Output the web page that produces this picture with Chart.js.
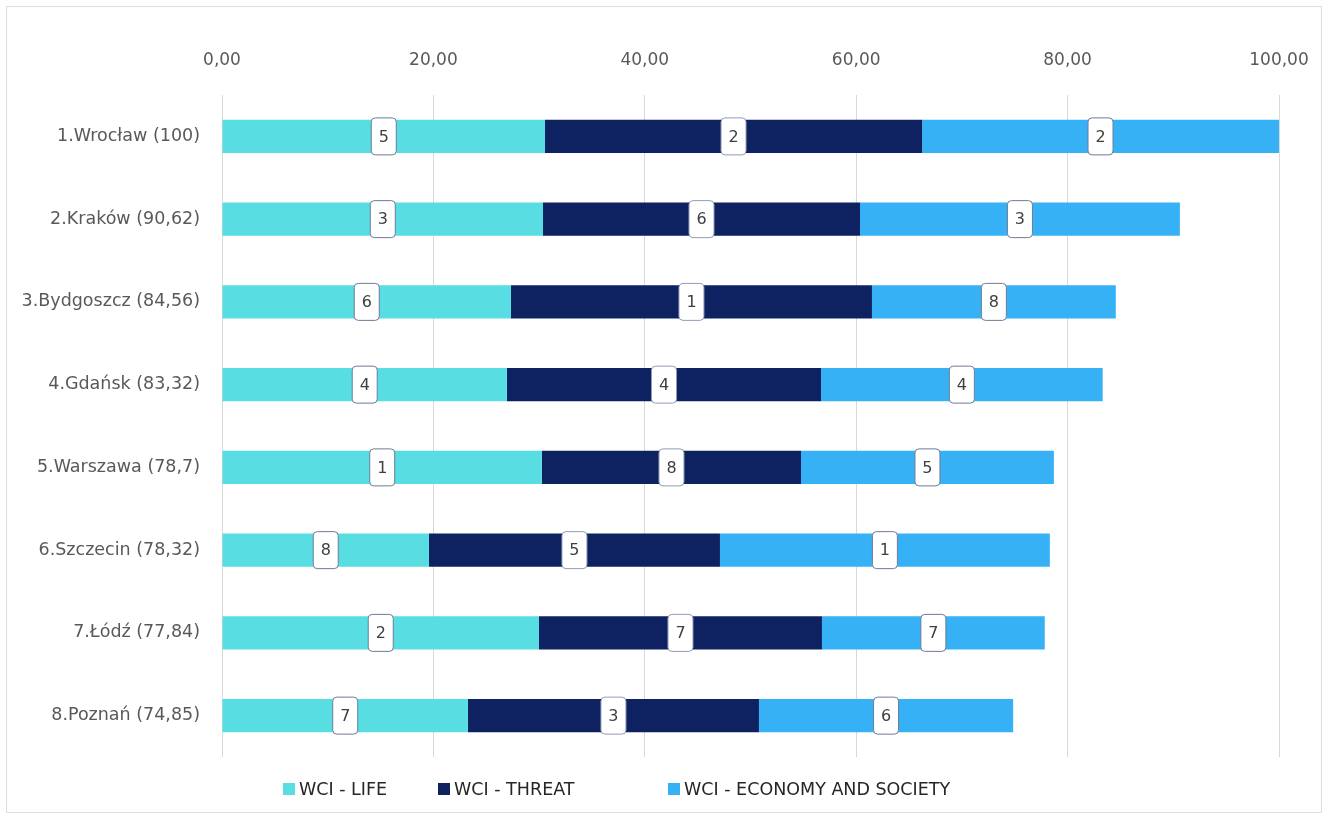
<!DOCTYPE html>
<html>
<head>
<meta charset="utf-8">
<script src="https://cdn.jsdelivr.net/npm/chart.js@4"></script>
<style>
  body { margin: 0; background: #fff; }
  #wrap { position: relative; width: 1329px; height: 820px; }
  #frame { position: absolute; left: 6px; top: 6px; width: 1316px; height: 807px; border: 1px solid #dedede; box-sizing: border-box; }
  #chart { position: absolute; left: 0; top: 0; }
  #legend { position: absolute; top: 779px; left: 0; font-family: "DejaVu Sans", sans-serif; font-size: 17.5px; color: #262626; }
  .item { position: absolute; white-space: nowrap; display: flex; align-items: center; }
  .box { width: 12px; height: 12px; margin-right: 4px; }
</style>
</head>
<body>
<div id="wrap">
  <div id="frame"></div>
  <canvas id="chart" width="1329" height="820"></canvas>
  <div id="legend"></div>
</div>
<script>
// categories and series
const cities = ['1.Wrocław (100)', '2.Kraków (90,62)', '3.Bydgoszcz (84,56)', '4.Gdańsk (83,32)',
                '5.Warszawa (78,7)', '6.Szczecin (78,32)', '7.Łódź (77,84)', '8.Poznań (74,85)'];
const lifeValues = [30.56, 30.37, 27.34, 26.96, 30.27, 19.58, 29.99, 23.27];
const threatValues = [35.67, 29.99, 34.15, 29.71, 24.51, 27.53, 26.77, 27.53];
const economyValues = [33.77, 30.26, 23.07, 26.65, 23.92, 31.21, 21.08, 24.05];
// rank shown inside each segment
const lifeRanks = [5, 3, 6, 4, 1, 8, 2, 7];
const threatRanks = [2, 6, 1, 4, 8, 5, 7, 3];
const economyRanks = [2, 3, 8, 4, 5, 1, 7, 6];
const tickLabels = ['0,00', '20,00', '40,00', '60,00', '80,00', '100,00'];
const seriesNames = ['WCI - LIFE', 'WCI - THREAT', 'WCI - ECONOMY AND SOCIETY'];
const seriesColors = ['#58dee2', '#0e2262', '#36b1f5'];

const ranks = [lifeRanks, threatRanks, economyRanks];

// draws the small rounded rank boxes at the middle of each segment
const rankLabels = {
    id: 'rankLabels',
    afterDatasetsDraw(chart) {
        const ctx = chart.ctx;
        ctx.save();
        chart.data.datasets.forEach((ds, di) => {
            const meta = chart.getDatasetMeta(di);
            meta.data.forEach((bar, i) => {
                const cx = (bar.base + bar.x) / 2;
                const cy = bar.y;
                const w = 25, h = 37;
                ctx.beginPath();
                ctx.roundRect(cx - w / 2, cy - h / 2, w, h, 4);
                ctx.fillStyle = '#ffffff';
                ctx.fill();
                ctx.lineWidth = 1;
                ctx.strokeStyle = di === 1 ? '#8f9bb8' : '#6e7a95';
                ctx.stroke();
                ctx.fillStyle = '#404040';
                ctx.font = '16px "DejaVu Sans", sans-serif';
                ctx.textAlign = 'center';
                ctx.textBaseline = 'middle';
                ctx.fillText(String(ranks[di][i]), cx, cy + 1);
            });
        });
        ctx.restore();
    }
};

const chart = new Chart(document.getElementById('chart'), {
    type: 'bar',
    data: {
        labels: cities,
        datasets: [lifeValues, threatValues, economyValues].map((vals, i) => ({
            label: seriesNames[i],
            data: vals,
            backgroundColor: seriesColors[i],
            barPercentage: 0.8,
            categoryPercentage: 0.5
        }))
    },
    options: {
        indexAxis: 'y',
        responsive: false,
        animation: false,
        layout: { padding: { left: 10, top: 40, right: 50, bottom: 63 } },
        plugins: {
            legend: { display: false },
            tooltip: { enabled: false }
        },
        scales: {
            x: {
                position: 'top',
                stacked: true,
                min: 0,
                max: 100,
                ticks: {
                    stepSize: 20,
                    padding: 24,
                    color: '#595959',
                    font: { family: '"DejaVu Sans", sans-serif', size: 17 },
                    callback: (v, i) => tickLabels[i]
                },
                grid: { color: '#d9d9d9', drawTicks: false },
                border: { display: false },
                afterFit: s => { s.height = 55; s.paddingRight = 0; s.paddingLeft = 0; }
            },
            y: {
                stacked: true,
                ticks: {
                    padding: 22,
                    color: '#595959',
                    font: { family: '"DejaVu Sans", sans-serif', size: 17.5 }
                },
                grid: { display: false, drawTicks: false },
                border: { display: false },
                afterFit: s => { s.width = 212; }
            }
        }
    },
    plugins: [rankLabels]
});

// legend placed like the original
const legendLeft = [283, 438, 668];
const legend = document.getElementById('legend');
seriesNames.forEach((name, i) => {
    const item = document.createElement('div');
    item.className = 'item';
    item.style.left = legendLeft[i] + 'px';
    const box = document.createElement('span');
    box.className = 'box';
    box.style.background = seriesColors[i];
    const txt = document.createElement('span');
    txt.textContent = name;
    item.appendChild(box);
    item.appendChild(txt);
    legend.appendChild(item);
});
</script>
</body>
</html>
